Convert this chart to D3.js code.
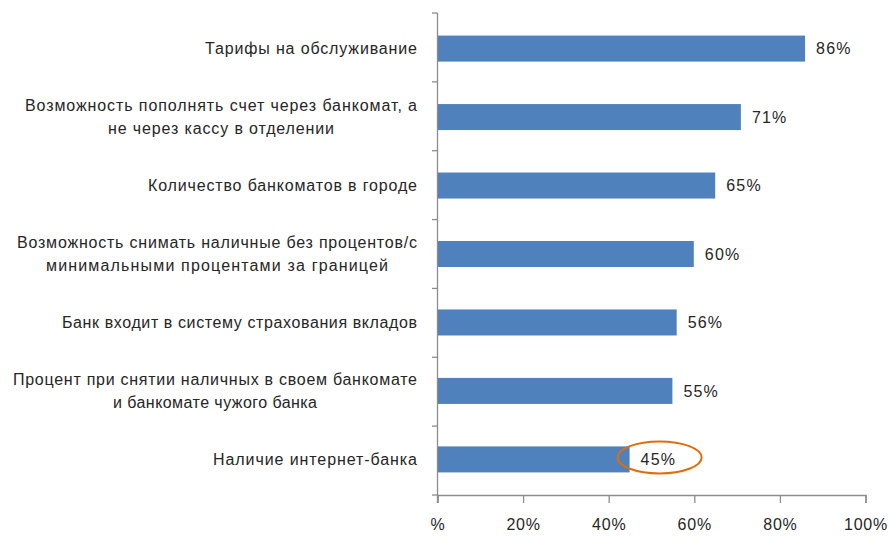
<!DOCTYPE html>
<html>
<head>
<meta charset="utf-8">
<script src="https://cdn.jsdelivr.net/npm/d3@7/dist/d3.min.js"></script>
<style>
  html, body { margin: 0; padding: 0; background: #fff; }
  svg { display: block; font-family: "Liberation Sans", Arial, sans-serif; }
</style>
</head>
<body>
<svg id="chart" width="890" height="537"></svg>
<script>
// Factors and share of respondents (%)
const categories = [
  ["Тарифы на обслуживание"],
  ["Возможность пополнять счет через банкомат, а", "не через кассу в отделении"],
  ["Количество банкоматов в городе"],
  ["Возможность снимать наличные без процентов/с", "минимальными процентами за границей"],
  ["Банк входит в систему страхования вкладов"],
  ["Процент при снятии наличных в своем банкомате", "и банкомате чужого банка"],
  ["Наличие интернет-банка"]
];
const values = [86, 71, 65, 60, 56, 55, 45];
const tickValues = [0, 20, 40, 60, 80, 100];
const tickLabels = ["%", "20%", "40%", "60%", "80%", "100%"];
const highlighted = 6; // index of the circled value

// Widths of each label line as typeset
const lineWidths = [
  [212],
  [392, 226],
  [269],
  [400, 342],
  [355],
  [404, 204],
  [204]
];

const svg = d3.select("#chart");
const plotLeft = 437, plotRight = 865, plotTop = 13, plotBottom = 495;

const x = d3.scaleLinear().domain([0, 100]).range([plotLeft, plotRight]);
const y = d3.scaleBand()
  .domain(d3.range(categories.length))
  .range([plotTop, plotBottom])
  .paddingInner(0.62)
  .paddingOuter(0.33);

const axisColor = "#8c8c8c";
const textColor = "#262626";

// Bars
svg.append("g").selectAll("rect")
  .data(values)
  .join("rect")
  .attr("x", x(0))
  .attr("y", (d, i) => y(i))
  .attr("width", d => x(d) - x(0))
  .attr("height", y.bandwidth())
  .attr("fill", "#4f81bd");

// Value labels
svg.append("g").selectAll("text")
  .data(values)
  .join("text")
  .attr("x", d => x(d) + 11)
  .attr("y", (d, i) => y(i) + y.bandwidth() / 2)
  .attr("dy", "0.35em")
  .attr("font-size", 16)
  .attr("letter-spacing", 1.2)
  .attr("fill", textColor)
  .text(d => d + "%");

// Vertical category axis with ticks between categories
const yAxis = svg.append("g");
yAxis.append("line")
  .attr("x1", plotLeft + 0.5).attr("x2", plotLeft + 0.5)
  .attr("y1", plotTop).attr("y2", plotBottom + 8)
  .attr("stroke", axisColor).attr("stroke-width", 1.3);
yAxis.selectAll("line.tick")
  .data(d3.range(categories.length + 1))
  .join("line")
  .attr("class", "tick")
  .attr("x1", plotLeft - 5).attr("x2", plotLeft + 0.5)
  .attr("y1", i => plotTop + i * (plotBottom - plotTop) / categories.length)
  .attr("y2", i => plotTop + i * (plotBottom - plotTop) / categories.length)
  .attr("stroke", axisColor).attr("stroke-width", 1.3);

// Category labels (right-aligned block, lines centred within it)
const labelRight = 417;
const lineGap = 23;
categories.forEach((lines, i) => {
  const cy = y(i) + y.bandwidth() / 2;
  const blockW = d3.max(lineWidths[i]);
  const cx = labelRight - blockW / 2;
  const g = svg.append("g");
  lines.forEach((ln, j) => {
    g.append("text")
      .attr("x", cx)
      .attr("y", cy + (j - (lines.length - 1) / 2) * lineGap)
      .attr("dy", "0.35em")
      .attr("text-anchor", "middle")
      .attr("font-size", 16)
      .attr("fill", textColor)
      .attr("textLength", lineWidths[i][j])
      .attr("lengthAdjust", "spacing")
      .text(ln);
  });
});

// Horizontal value axis
const xAxis = d3.axisBottom(x)
  .tickValues(tickValues)
  .tickFormat((d, i) => tickLabels[i])
  .tickSize(8)
  .tickPadding(16);
const gx = svg.append("g")
  .attr("transform", `translate(0.5,${plotBottom})`)
  .call(xAxis);
gx.select(".domain").attr("stroke", axisColor).attr("stroke-width", 1.3);
gx.selectAll(".tick line").attr("stroke", axisColor).attr("stroke-width", 1.3);
gx.selectAll(".tick text")
  .attr("font-size", 16)
  .attr("letter-spacing", 0.8)
  .attr("font-family", "Liberation Sans, Arial, sans-serif")
  .attr("fill", textColor);

// Highlight ring around the selected value label
svg.append("ellipse")
  .attr("cx", x(values[highlighted]) + 30)
  .attr("cy", y(highlighted) + y.bandwidth() / 2 - 2)
  .attr("rx", 42)
  .attr("ry", 16)
  .attr("fill", "none")
  .attr("stroke", "#e36c0a")
  .attr("stroke-width", 2);
</script>
</body>
</html>
